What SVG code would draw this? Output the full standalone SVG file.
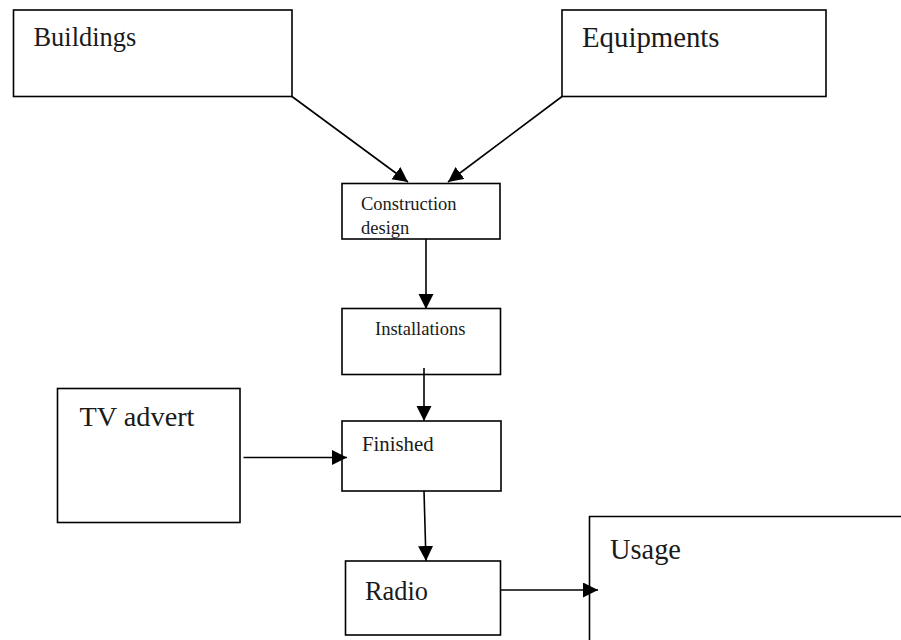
<svg xmlns="http://www.w3.org/2000/svg" width="901" height="640" viewBox="0 0 901 640">
  <style>
    .box { fill: none; stroke: #000; stroke-width: 1.6; }
    .lbl { font-family: "Liberation Serif", "Times New Roman", serif; fill: #1a1a1a; }
    .conn line { stroke: #000; stroke-width: 1.6; marker-end: url(#arrow); }
  </style>
  <defs>
    <marker id="arrow" markerUnits="userSpaceOnUse" markerWidth="16" markerHeight="16" refX="15" refY="7.5" orient="auto">
      <path d="M0,0 L15,7.5 L0,15 z" fill="#000"/>
    </marker>
  </defs>
  <rect width="901" height="640" fill="#fff"/>

  <g id="buildings">
    <rect class="box" x="13.5" y="10" width="278.5" height="86.5"/>
    <text class="lbl" x="33.5" y="45.5" font-size="26.4">Buildings</text>
  </g>
  <g id="equipments">
    <rect class="box" x="562" y="10" width="264" height="86.5"/>
    <text class="lbl" x="582" y="47" font-size="28.8">Equipments</text>
  </g>
  <g id="construction-design">
    <rect class="box" x="342" y="183.5" width="158" height="55.5"/>
    <text class="lbl" x="361" y="210" font-size="18.5">Construction</text>
    <text class="lbl" x="361" y="234" font-size="18.5">design</text>
  </g>
  <g id="installations">
    <rect class="box" x="342" y="308.5" width="158.5" height="66"/>
    <text class="lbl" x="375" y="335" font-size="18.5">Installations</text>
  </g>
  <g id="tv-advert">
    <rect class="box" x="57.5" y="388.5" width="182.5" height="134"/>
    <text class="lbl" x="79.5" y="426" font-size="28.3">TV advert</text>
  </g>
  <g id="finished">
    <rect class="box" x="342" y="421" width="159" height="70"/>
    <text class="lbl" x="362" y="450.5" font-size="20.8">Finished</text>
  </g>
  <g id="radio">
    <rect class="box" x="345.5" y="561" width="155" height="74"/>
    <text class="lbl" x="365" y="600" font-size="26.4">Radio</text>
  </g>
  <g id="usage">
    <path class="box" d="M589.5,640 V516.5 H901"/>
    <text class="lbl" x="610" y="558.5" font-size="28.4">Usage</text>
  </g>

  <g id="connectors" class="conn">
    <line x1="292" y1="96.5" x2="408" y2="182"/>
    <line x1="562" y1="96.5" x2="448" y2="182"/>
    <line x1="426" y1="239" x2="426" y2="309"/>
    <line x1="424" y1="368" x2="424" y2="421"/>
    <line x1="243.5" y1="457.5" x2="347" y2="457.5"/>
    <line x1="424" y1="491" x2="426" y2="561"/>
    <line x1="500" y1="590" x2="598" y2="590"/>
  </g>
</svg>
